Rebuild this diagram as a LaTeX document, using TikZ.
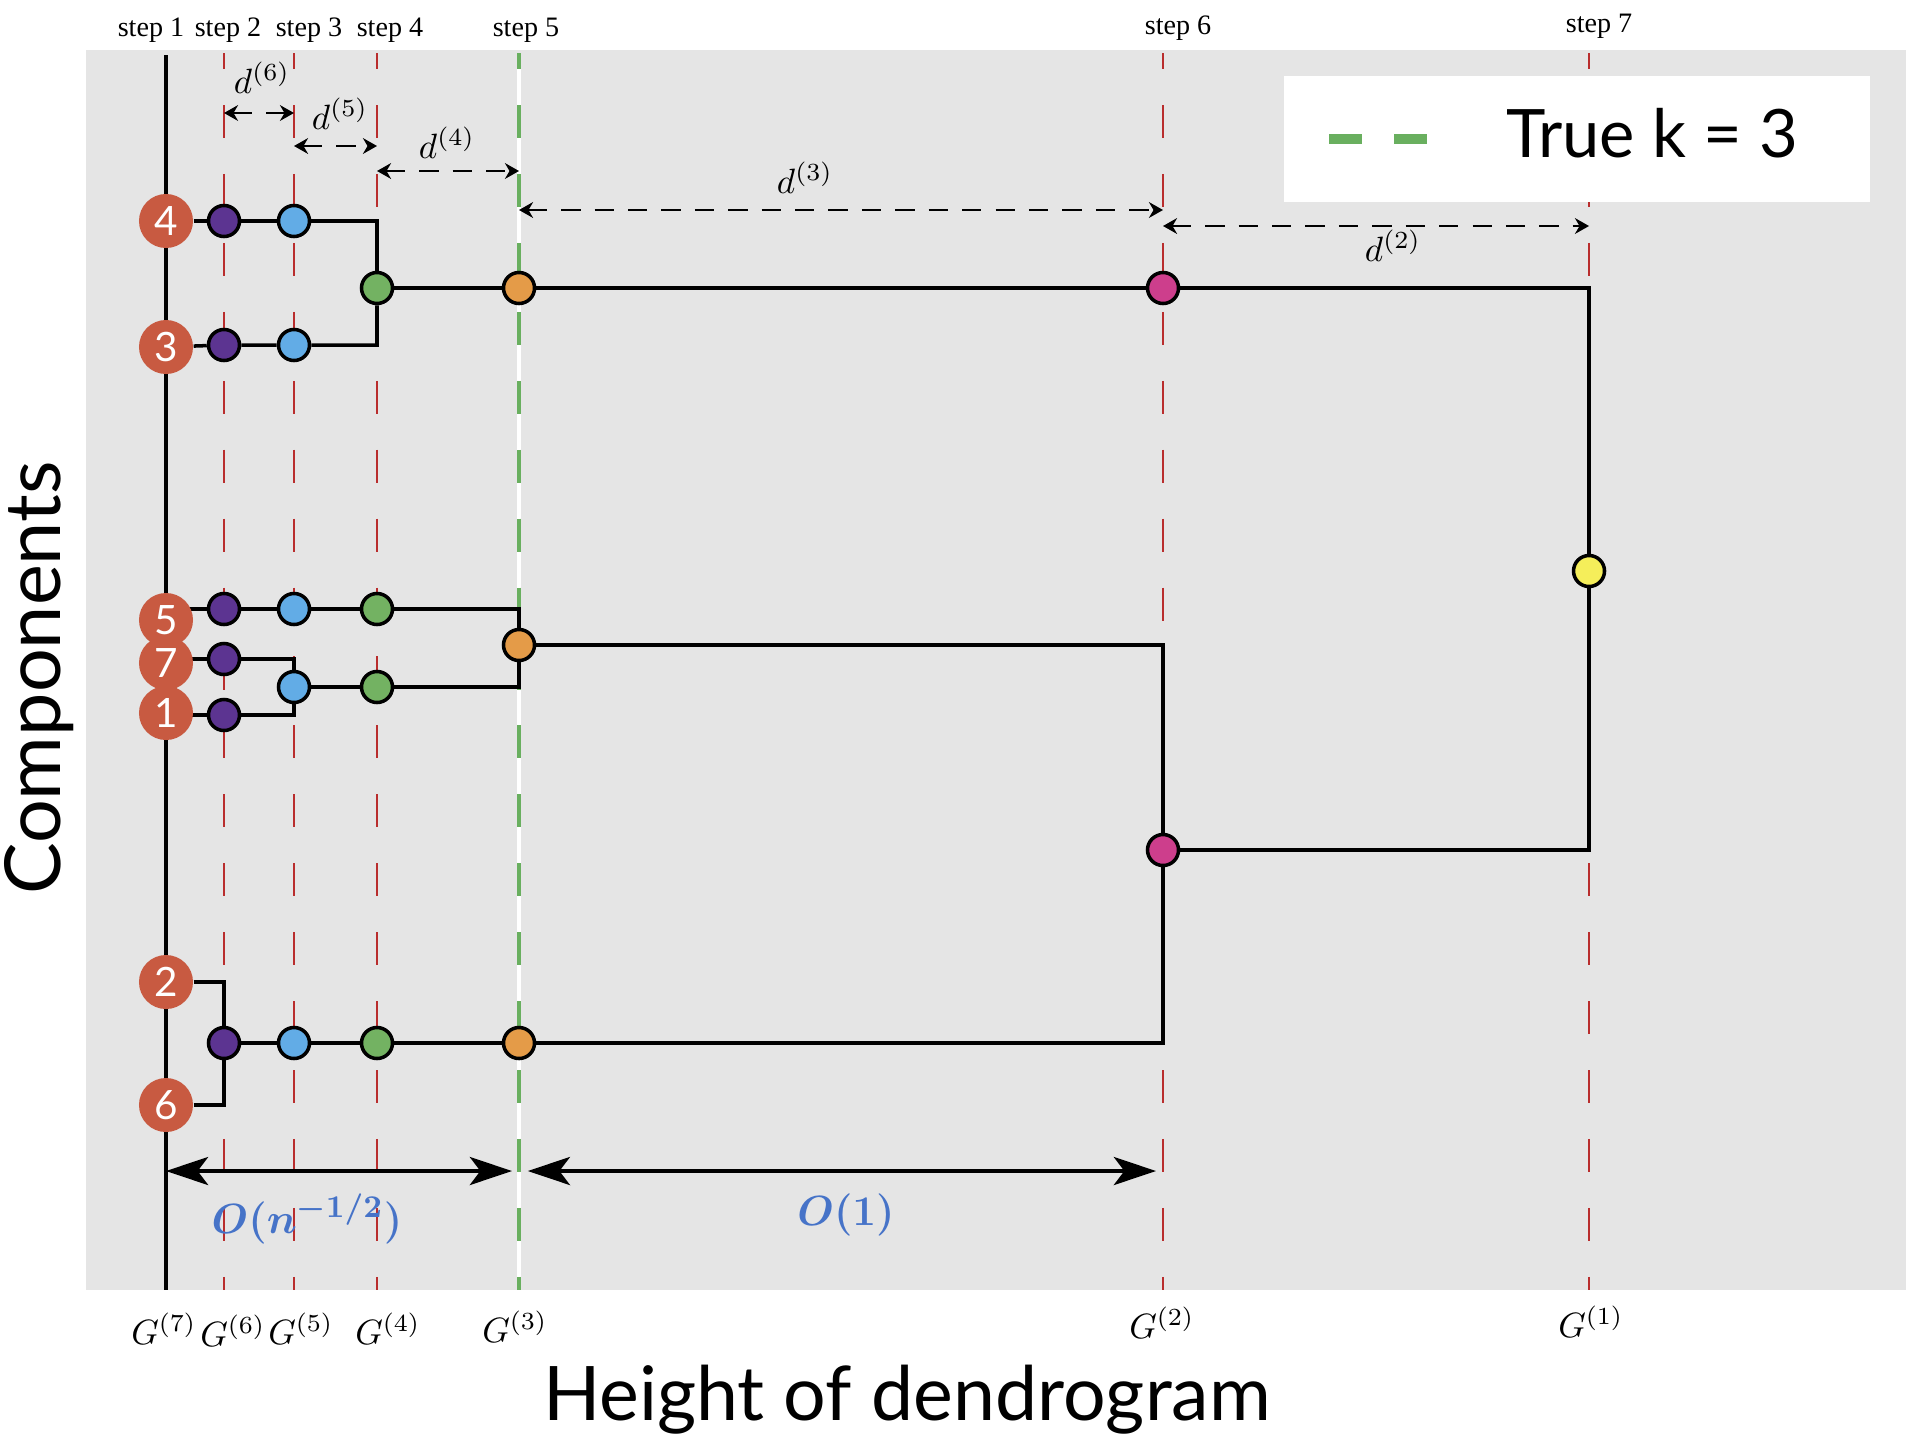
\documentclass[tikz,border=0pt]{standalone}
\usepackage{fontspec}
\usepackage{amsmath}
\usetikzlibrary{arrows.meta}
\newfontfamily\labfont{Lato}
\newfontfamily\stepfont{Liberation Serif}
\definecolor{leafred}{RGB}{200,90,65}
\definecolor{cpurple}{RGB}{92,52,145}
\definecolor{cblue}{RGB}{98,172,230}
\definecolor{cgreen}{RGB}{115,178,98}
\definecolor{corange}{RGB}{228,155,72}
\definecolor{cpink}{RGB}{205,62,140}
\definecolor{cyellow}{RGB}{245,238,90}
\definecolor{bgray}{RGB}{229,229,229}
\definecolor{stepred}{RGB}{185,45,45}
\definecolor{stepgreen}{RGB}{105,175,95}
\definecolor{ordblue}{RGB}{70,115,200}
\pgfdeclarelayer{back}
\pgfdeclarelayer{wires}
\pgfsetlayers{back,wires,main}

\begin{document}
\begin{tikzpicture}[x=0.01cm,y=-0.01cm,
    leaf/.style={circle,fill=leafred,text=white,minimum size=0.54cm,inner sep=0pt,
      font=\labfont\fontsize{11.5}{11.5}\selectfont},
    merge/.style={circle,draw,line width=1pt,minimum size=0.31cm,inner sep=0pt},
    tree/.style={line width=1pt},
    stepline/.style={stepred,line width=0.6pt,dash pattern=on 9.4pt off 10.2pt,dash phase=4.8pt},
    truek/.style={stepgreen,line width=0.9pt,dash pattern=on 9.4pt off 10.2pt,dash phase=4.8pt},
    dist/.style={{Stealth[length=4pt,width=4.5pt]}-{Stealth[length=4pt,width=4.5pt]},
      line width=0.6pt,dash pattern=on 5.5pt off 4pt},
    order/.style={{Stealth[length=12pt,width=8pt,inset=3pt]}-{Stealth[length=12pt,width=8pt,inset=3pt]},
      line width=1pt},
    steplab/.style={font=\stepfont\fontsize{8}{9}\selectfont},
    glab/.style={font=\fontsize{10}{11}\selectfont},
    dlab/.style={font=\fontsize{10}{11}\selectfont},
    ordlab/.style={text=ordblue,font=\fontsize{12.5}{13}\selectfont}]
    \useasboundingbox (0,0) rectangle (1928,1448);

    % step lines, top and bottom ends
    \coordinate (t1) at (166,55);    \coordinate (u1) at (166,1290);
    \coordinate (t2) at (224,53);    \coordinate (u2) at (224,1290);
    \coordinate (t3) at (294,53);    \coordinate (u3) at (294,1290);
    \coordinate (t4) at (377,53);    \coordinate (u4) at (377,1290);
    \coordinate (t5) at (519,53);    \coordinate (u5) at (519,1290);
    \coordinate (t6) at (1163,53);   \coordinate (u6) at (1163,1290);
    \coordinate (t7) at (1589,53);   \coordinate (u7) at (1589,1290);

    % leaves
    \node[leaf] (l4) at (166,221) {4};
    \node[leaf] (l3) at (166,347) {3};
    \node[leaf] (l5) at (166,620) {5};
    \node[leaf] (l7) at (166,663) {7};
    \node[leaf] (l1) at (166,713) {1};
    \node[leaf] (l2) at (166,982) {2};
    \node[leaf] (l6) at (166,1105) {6};

    % merges
    \node[merge,fill=cpurple] (p4) at (224,221) {};
    \node[merge,fill=cpurple] (p3) at (224,345) {};
    \node[merge,fill=cpurple] (p5) at (224,609) {};
    \node[merge,fill=cpurple] (p7) at (224,659) {};
    \node[merge,fill=cpurple] (p1) at (224,715) {};
    \node[merge,fill=cpurple] (p26) at (224,1043) {};
    \node[merge,fill=cblue] (b4) at (294,221) {};
    \node[merge,fill=cblue] (b3) at (294,345) {};
    \node[merge,fill=cblue] (b5) at (294,609) {};
    \node[merge,fill=cblue] (b71) at (294,687) {};
    \node[merge,fill=cblue] (b26) at (294,1043) {};
    \node[merge,fill=cgreen] (g43) at (377,288) {};
    \node[merge,fill=cgreen] (g5) at (377,609) {};
    \node[merge,fill=cgreen] (g71) at (377,687) {};
    \node[merge,fill=cgreen] (g26) at (377,1043) {};
    \node[merge,fill=corange] (o43) at (519,288) {};
    \node[merge,fill=corange] (o571) at (519,645) {};
    \node[merge,fill=corange] (o26) at (519,1043) {};
    \node[merge,fill=cpink] (m1) at (1163,288) {};
    \node[merge,fill=cpink] (m2) at (1163,850) {};
    \node[merge,fill=cyellow] (y1) at (1589,571) {};

    \begin{pgfonlayer}{back}
        \fill[white] (0,0) rectangle (1928,1448);
        \fill[bgray] (86,50) rectangle (1906,1290);
        \draw[stepline] (t2) -- (u2);
        \draw[stepline] (t3) -- (u3);
        \draw[stepline] (t4) -- (u4);
        \draw[stepline] (t6) -- (u6);
        \draw[stepline] (t7) -- (u7);
        \draw[white,line width=0.9pt] (t5) -- (u5);
        \draw[truek] (t5) -- (u5);
        \draw[tree] (t1) -- (u1);
        % legend
        \node[fill=white,minimum width=5.85cm,minimum height=1.25cm,inner sep=0pt] (leg) at (1577,139) {};
    \end{pgfonlayer}

    \begin{pgfonlayer}{wires}
        \draw[tree] (l4) -- (p4) -- (b4) -| (g43);
        \draw[tree] (l3) -- (p3) -- (b3) -| (g43);
        \draw[tree] (g43) -- (o43) -- (m1) -| (y1);
        \draw[tree] (p5 -| l5) -- (p5) -- (b5) -- (g5) -| (o571);
        \draw[tree] (p7 -| l7) -- (p7) -| (b71);
        \draw[tree] (p1 -| l1) -- (p1) -| (b71);
        \draw[tree] (b71) -- (g71) -| (o571);
        \draw[tree] (o571) -| (m2);
        \draw[tree] (l2) -| (p26);
        \draw[tree] (l6) -| (p26);
        \draw[tree] (p26) -- (b26) -- (g26) -- (o26) -| (m2);
        \draw[tree] (m2) -| (y1);
    \end{pgfonlayer}

    % legend sample and text
    \coordinate (ks) at (1329,139);
    \coordinate (ke) at (1428,139);
    \draw[stepgreen,line width=2.6pt,dash pattern=on 9.4pt off 9.1pt] (ks) -- (ke);
    \node[font=\labfont\fontsize{19}{20}\selectfont] (legtext) at (1652,133) {True k = 3};

    % distances
    \draw[dist] (t2 |- 0,113) -- (t3 |- 0,113);
    \draw[dist] (t3 |- 0,146) -- (t4 |- 0,146);
    \draw[dist] (t4 |- 0,171) -- (t5 |- 0,171);
    \draw[dist] (t5 |- 0,210) -- (t6 |- 0,210);
    \draw[dist] (t6 |- 0,226) -- (t7 |- 0,226);
    \node[dlab] (d6) at (262,78) {$d^{(6)}$};
    \node[dlab] (d5) at (340,114) {$d^{(5)}$};
    \node[dlab] (d4) at (447,143) {$d^{(4)}$};
    \node[dlab] (d3) at (805,178) {$d^{(3)}$};
    \node[dlab] (d2) at (1393,246) {$d^{(2)}$};

    % orders
    \draw[order,shorten >=2pt] (u1 |- 0,1171) -- (u5 |- 0,1171);
    \draw[order,shorten <=2.5pt,shorten >=2pt] (u5 |- 0,1171) -- (u6 |- 0,1171);
    \node[ordlab] (on) at (307,1219) {$\boldsymbol{O(n^{-1/2})}$};
    \node[ordlab] (o1) at (846,1215) {$\boldsymbol{O(1)}$};

    % step labels
    \node[steplab] (s1) at (151,30) {step 1};
    \node[steplab] (s2) at (228,30) {step 2};
    \node[steplab] (s3) at (309,30) {step 3};
    \node[steplab] (s4) at (390,30) {step 4};
    \node[steplab] (s5) at (526,30) {step 5};
    \node[steplab] (s6) at (1178,28) {step 6};
    \node[steplab] (s7) at (1599,26) {step 7};

    % graph labels
    \node[glab] (g7l) at (164,1329) {$G^{(7)}$};
    \node[glab] (g6l) at (233,1331) {$G^{(6)}$};
    \node[glab] (g5l) at (301,1329) {$G^{(5)}$};
    \node[glab] (g4l) at (388,1329) {$G^{(4)}$};
    \node[glab] (g3l) at (515,1327) {$G^{(3)}$};
    \node[glab] (g2l) at (1162,1323) {$G^{(2)}$};
    \node[glab] (g1l) at (1591,1322) {$G^{(1)}$};

    % axis titles
    \node[font=\labfont\fontsize{21.4}{23}\selectfont,anchor=base] (xt) at (907,1420) {Height of dendrogram};
    \node[font=\labfont\fontsize{22}{24}\selectfont,rotate=90,anchor=base] (yt) at (60,678) {Components};
\end{tikzpicture}
\end{document}
